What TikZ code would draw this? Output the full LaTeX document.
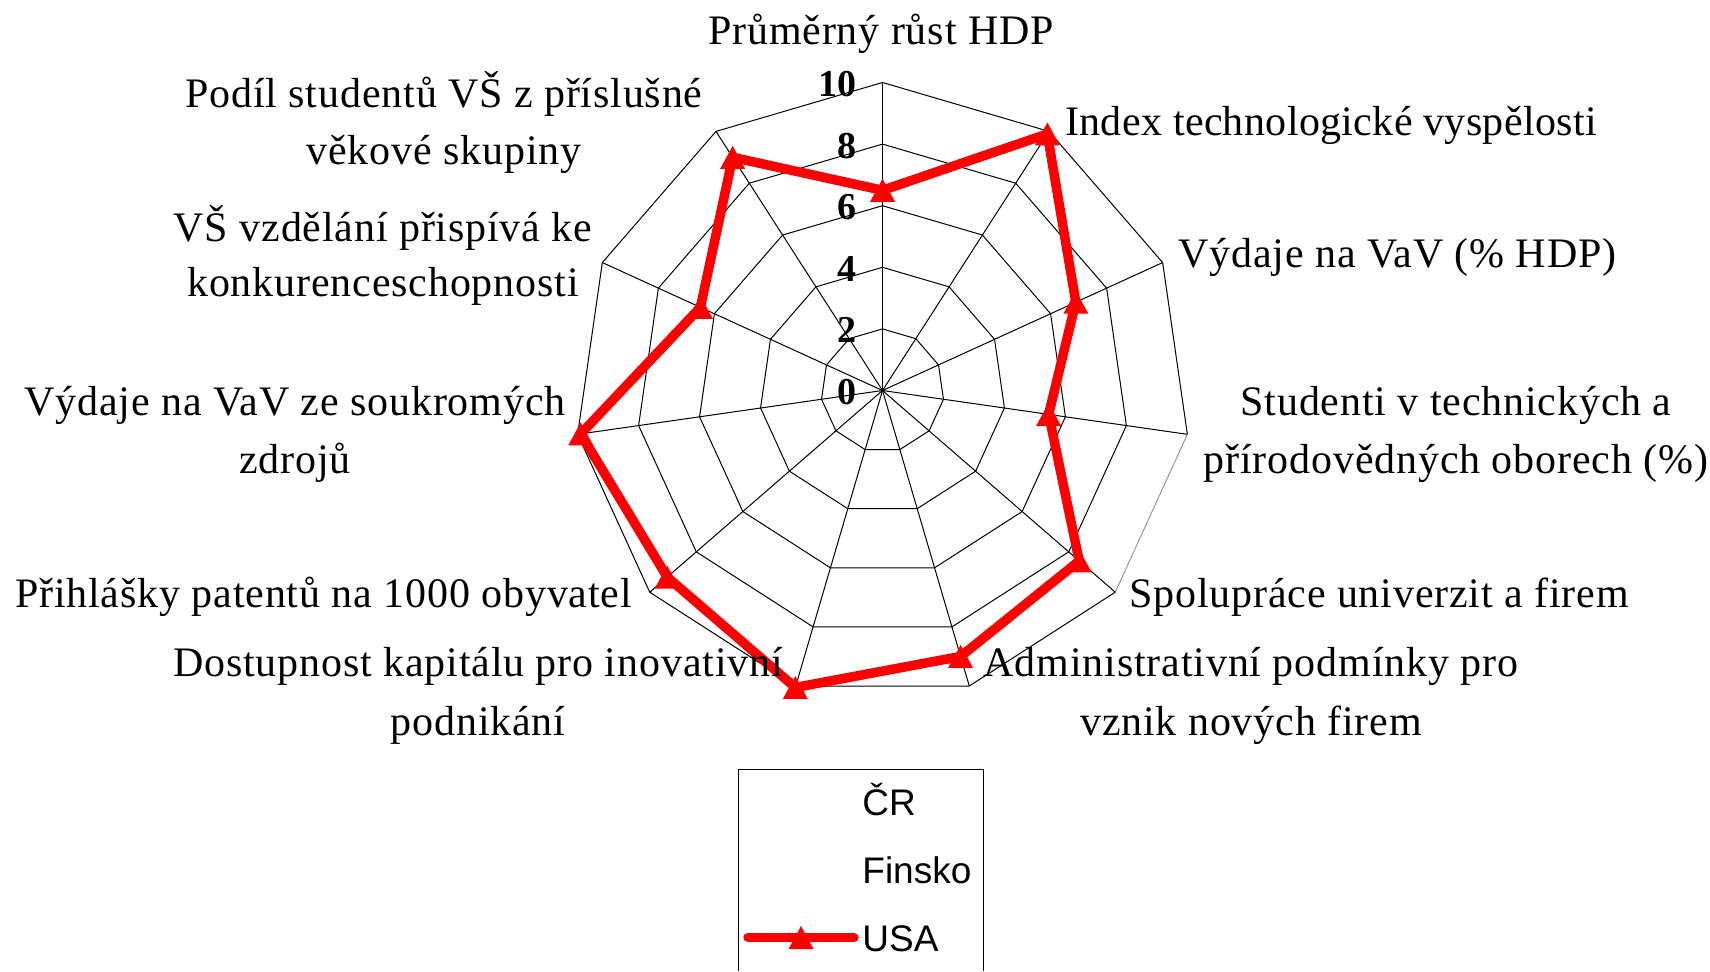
\documentclass[tikz,border=0pt]{standalone}
\usepackage{fontspec}
\setmainfont{Liberation Serif}[LetterSpace=2]
\newfontfamily\tickfont{Liberation Serif}
\newfontfamily\legfont{Liberation Sans}
\definecolor{usared}{RGB}{255,0,0}
\begin{document}
\begin{tikzpicture}[x=0.5pt,y=0.5pt,
  gridline/.style={draw=black, line width=0.5pt},
  usaline/.style={draw=usared, line width=4.75pt, line join=round, line cap=round},
  lbl/.style={anchor=base, inner sep=0pt, font=\fontsize{21}{25}\selectfont},
  ticklbl/.style={anchor=east, inner sep=0pt, font=\tickfont\bfseries\fontsize{19}{22}\selectfont},
  leglbl/.style={anchor=base west, inner sep=0pt, font=\legfont\fontsize{18.5}{22}\selectfont},
  usamark/.pic={\fill[usared] (0,11.5) -- (-12.5,-11.5) -- (12.5,-11.5) -- cycle;}
]
\useasboundingbox (0,0) rectangle (1710,971);
\fill[white] (0,0) rectangle (1710,971);

\begin{scope}[shift={(882.5,580.5)}]
  % grid polygons
  \foreach \lv in {2,4,6,8} {
    \draw[gridline] (90:{\lv*30.8}) \foreach \k in {1,...,10} {-- ({90-\k*360/11}:{\lv*30.8})} -- cycle;
  }
  \draw[gridline] ({90-4*360/11}:308) \foreach \k in {5,...,14} {-- ({90-\k*360/11}:308)};
  \draw[gridline, draw=black!40] ({90-3*360/11}:308) -- ({90-4*360/11}:308);
  % spokes
  \foreach \k in {0,...,10} \draw[gridline] (0,0) -- ({90-\k*360/11}:308);
  % data
  \foreach \v [count=\k from 0] in {6.5,9.9,6.9,5.45,8.45,9.0,10.05,9.25,9.9,6.5,9.0}
    \coordinate (p\k) at ({90-\k*360/11}:{\v*30.8});
\end{scope}

\draw[usaline] (p0) -- (p1) -- (p2) -- (p3) -- (p4) -- (p5) -- (p6) -- (p7) -- (p8) -- (p9) -- (p10) -- cycle;
\foreach \k in {0,...,10} \pic at (p\k) {usamark};

% tick labels
\foreach \lv in {0,2,4,6,8,10} \node[ticklbl] (t\lv) at (857,{579+\lv*30.8}) {\lv};

% axis labels
\node[lbl] (l0)  at (881,926.5)  {Průměrný růst HDP};
\node[lbl] (l1)  at (1331,835)   {\addfontfeature{LetterSpace=0.8}Index technologické vyspělosti};
\node[lbl] (l2)  at (1397.5,703) {Výdaje na VaV (\% HDP)};
\node[lbl] (l3a) at (1456,555.5) {Studenti v technických a};
\node[lbl] (l3b) at (1456,497)   {přírodovědných oborech (\%)};
\node[lbl] (l4)  at (1379,364)   {Spolupráce univerzit a firem};
\node[lbl] (l5a) at (1251,294)   {Administrativní podmínky pro};
\node[lbl] (l5b) at (1251,236)   {vznik nových firem};
\node[lbl] (l6a) at (478,294)    {Dostupnost kapitálu pro inovativní};
\node[lbl] (l6b) at (478,236)    {podnikání};
\node[lbl] (l7)  at (323.5,364)  {Přihlášky patentů na 1000 obyvatel};
\node[lbl] (l8a) at (295,555.5)  {Výdaje na VaV ze soukromých};
\node[lbl] (l8b) at (295,497)    {zdrojů};
\node[lbl] (l9a) at (383,729)    {VŠ vzdělání přispívá ke};
\node[lbl] (l9b) at (383,674)    {konkurenceschopnosti};
\node[lbl] (l10a) at (444,863)   {Podíl studentů VŠ z příslušné};
\node[lbl] (l10b) at (444,806.5) {věkové skupiny};

% legend
\draw[gridline] (738.3,0) -- (738.3,201.7) -- (983.3,201.7) -- (983.3,0);
\node[leglbl] (lg1) at (862,156)  {ČR};
\node[leglbl] (lg2) at (862,87.7) {Finsko};
\node[leglbl] (lg3) at (862,19.3) {USA};
\coordinate (legA) at (748,33.7);
\coordinate (legB) at (854,33.7);
\draw[usaline] (legA) -- (legB);
\pic at (801,33.5) {usamark};
\end{tikzpicture}
\end{document}
